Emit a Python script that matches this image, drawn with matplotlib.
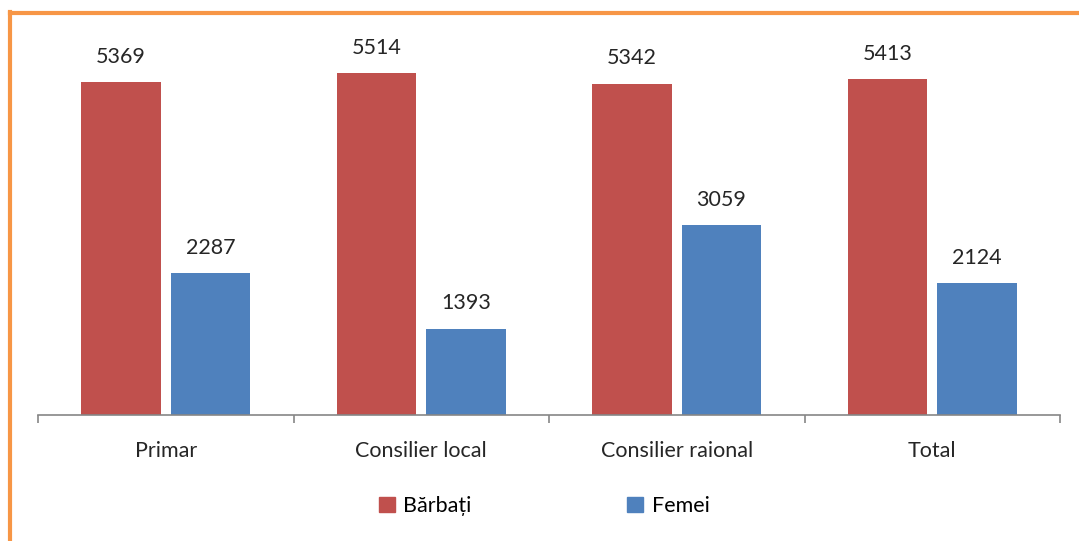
import numpy as np
import matplotlib
matplotlib.use("Agg")
import matplotlib.pyplot as plt
from matplotlib.lines import Line2D
from matplotlib.patches import Patch

plt.rcParams['font.family'] = ['Lato', 'DejaVu Sans']

categories = ["Primar", "Consilier local", "Consilier raional", "Total"]
barbati = [5369, 5514, 5342, 5413]
femei = [2287, 1393, 3059, 2124]

red = "#C0504D"
blue = "#4F81BD"

fig = plt.figure(figsize=(10.79, 5.41), dpi=100)
ax = fig.add_axes([38 / 1079, 1 - 415 / 541, (1060 - 38) / 1079, 400 / 541])

x = np.arange(len(categories))
w = 0.31
off = 0.175
b1 = ax.bar(x - off, barbati, w, color=red)
b2 = ax.bar(x + off, femei, w, color=blue)

for bars in (b1, b2):
    for b in bars:
        ax.annotate(f"{int(b.get_height())}", (b.get_x() + b.get_width() / 2, b.get_height()),
                    xytext=(0, 11), textcoords="offset points", ha="center", va="bottom",
                    fontsize=15.5, color="#262626")

ax.set_xlim(-0.5, len(categories) - 0.5)
ax.set_ylim(0, 6450)
ax.set_yticks([])
for s in ("top", "right", "left"):
    ax.spines[s].set_visible(False)
ax.spines["bottom"].set_color("#868686")
ax.spines["bottom"].set_linewidth(1.2)

ax.set_xticks(x)
ax.set_xticklabels(categories, fontsize=15.5, color="#262626")
ax.tick_params(axis="x", which="major", length=0, pad=19)
ax.set_xticks(np.arange(-0.5, len(categories)), minor=True)
ax.tick_params(axis="x", which="minor", length=6, width=1.2, color="#868686", direction="out")

handles = [Patch(color=red, label="Bărbați"), Patch(color=blue, label="Femei")]
fig.legend(handles=handles, loc="center", bbox_to_anchor=(544 / 1079, 1 - 506 / 541), ncol=2,
           frameon=False, fontsize=15.5, handlelength=0.75, handleheight=0.75,
           handletextpad=0.4, columnspacing=7.2)

# orange frame on left and top
orange = "#F79646"
fig.add_artist(Line2D([10 / 1079, 10 / 1079], [0, 1 - 12 / 541], color=orange, lw=3,
                      transform=fig.transFigure, solid_capstyle="projecting"))
fig.add_artist(Line2D([10 / 1079, 1], [1 - 13 / 541, 1 - 13 / 541], color=orange, lw=3,
                      transform=fig.transFigure, solid_capstyle="projecting"))

fig.savefig("out.png", dpi=100)
